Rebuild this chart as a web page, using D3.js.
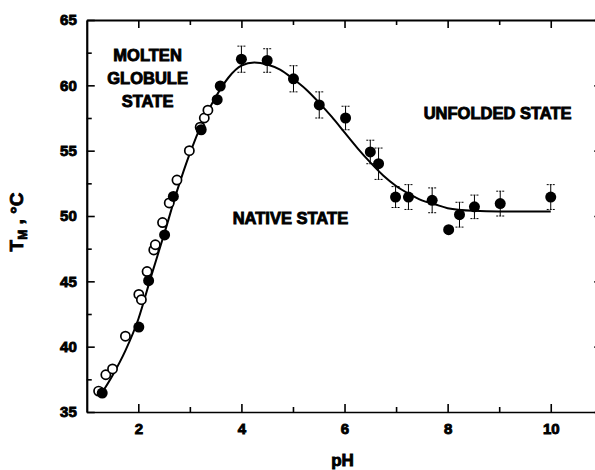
<!DOCTYPE html>
<html>
<head>
<meta charset="utf-8">
<script src="https://cdn.jsdelivr.net/npm/d3@7"></script>
<style>
  body { margin: 0; background: #fff; }
  text { font-family: "Liberation Sans", Arial, sans-serif; font-weight: bold; fill: #000; }
</style>
</head>
<body>
<svg width="595" height="470"></svg>
<script>
'use strict';

// filled circles (with error bars)
const filledPH  = [1.30, 2.01, 2.20, 2.51, 2.68, 3.22, 3.53, 3.59, 4.00, 4.50, 5.01, 5.51, 6.02, 6.50, 6.66, 6.99, 7.24, 7.70, 8.02, 8.23, 8.52, 9.02, 10.0];
const filledT   = [36.45, 41.5, 45.05, 48.55, 51.5, 56.6, 58.9, 59.95, 62.0, 61.9, 60.5, 58.5, 57.5, 54.9, 54.0, 51.45, 51.45, 51.2, 48.95, 50.1, 50.7, 50.95, 51.45];
const filledErr = [0, 0, 0, 0, 0, 0, 0, 0, 1.0, 0.9, 1.0, 1.0, 0.9, 0.9, 1.2, 0.8, 0.95, 0.95, 0, 0.95, 0.9, 0.95, 0.95];

// open circles
const openPH = [1.23, 1.37, 1.50, 1.75, 2.01, 2.06, 2.17, 2.30, 2.33, 2.47, 2.60, 2.75, 2.99, 3.20, 3.28, 3.35];
const openT  = [36.6, 37.85, 38.3, 40.8, 44.0, 43.6, 45.75, 47.4, 47.8, 49.5, 51.0, 52.75, 55.0, 56.8, 57.5, 58.1];

// fitted curve
const fitPH = [1.25, 1.5, 1.75, 2.0, 2.25, 2.5, 2.75, 3.0, 3.25, 3.5, 3.75, 4.0, 4.25, 4.5, 4.75, 5.0, 5.25, 5.5, 5.75, 6.0, 6.25, 6.5, 6.75, 7.0, 7.25, 7.5, 7.75, 8.0, 8.5, 9.0, 10.0];
const fitT  = [36.2, 37.8, 39.7, 42.1, 45.4, 48.6, 51.9, 54.8, 57.2, 59.1, 60.6, 61.5, 61.75, 61.6, 61.2, 60.5, 59.7, 58.7, 57.6, 56.4, 55.2, 54.1, 53.1, 52.3, 51.7, 51.2, 50.9, 50.6, 50.4, 50.35, 50.35];

const xTicks = [2, 4, 6, 8, 10];
const xMinor = [3, 5, 7, 9];
const yTicks = [35, 40, 45, 50, 55, 60, 65];
const yMinor = [37.5, 42.5, 47.5, 52.5, 57.5, 62.5];

const annotations = [
  {lines: ["MOLTEN", "GLOBULE", "STATE"], ph: 2.18, t: 61.9},
  {lines: ["NATIVE STATE"], ph: 4.95, t: 49.4},
  {lines: ["UNFOLDED STATE"], ph: 8.97, t: 57.45}
];

let svg = d3.select("svg");

let x = d3.scaleLinear().domain([1, 11]).range([86.75, 602.3]);
let y = d3.scaleLinear().domain([35, 65]).range([412, 20]);

let g = svg.append("g");

function styleAxis(sel, width) {
  sel.select(".domain").attr("stroke", "#000").attr("stroke-width", width);
  sel.selectAll(".tick line").attr("stroke", "#000").attr("stroke-width", 1.6);
  sel.selectAll(".tick text")
    .attr("font-size", 15)
    .attr("stroke", "#000")
    .attr("stroke-width", 0.9);
}

// bottom
g.append("g")
    .attr("transform", `translate(0,${y(35)})`)
    .call(d3.axisBottom(x).tickValues(xTicks).tickSize(-8).tickSizeOuter(0).tickPadding(11).tickFormat(d3.format("d")))
    .call(s => styleAxis(s, 1.3));
g.append("g")
    .attr("transform", `translate(0,${y(35)})`)
    .call(d3.axisBottom(x).tickValues(xMinor).tickSize(-5).tickSizeOuter(0).tickFormat(""))
    .call(s => styleAxis(s, 0));

// top
g.append("g")
    .attr("transform", `translate(0,${y(65)})`)
    .call(d3.axisTop(x).tickValues(xTicks).tickSize(-8).tickSizeOuter(0).tickFormat(""))
    .call(s => styleAxis(s, 2));
g.append("g")
    .attr("transform", `translate(0,${y(65)})`)
    .call(d3.axisTop(x).tickValues(xMinor).tickSize(-5).tickSizeOuter(0).tickFormat(""))
    .call(s => styleAxis(s, 0));

// left
g.append("g")
    .attr("transform", `translate(${x(1)},0)`)
    .call(d3.axisLeft(y).tickValues(yTicks).tickSize(-8).tickSizeOuter(0).tickPadding(10).tickFormat(d3.format("d")))
    .call(s => styleAxis(s, 2.2));
g.append("g")
    .attr("transform", `translate(${x(1)},0)`)
    .call(d3.axisLeft(y).tickValues(yMinor).tickSize(-5).tickSizeOuter(0).tickFormat(""))
    .call(s => styleAxis(s, 0));

// right
g.append("g")
    .attr("transform", `translate(${x(11)},0)`)
    .call(d3.axisRight(y).tickValues(yTicks).tickSize(-8).tickSizeOuter(0).tickFormat(""))
    .call(s => styleAxis(s, 2));

// fitted curve
let fit = fitPH.map((p, i) => [p, fitT[i]]);
g.append("path")
    .datum(fit)
    .attr("fill", "none")
    .attr("stroke", "#000")
    .attr("stroke-width", 2)
    .attr("d", d3.line().x(d => x(d[0])).y(d => y(d[1])).curve(d3.curveMonotoneX));

// error bars
let filled = filledPH.map((p, i) => ({ph: p, t: filledT[i], e: filledErr[i]}));
let eb = g.append("g").attr("stroke", "#000").attr("stroke-width", 1)
  .selectAll("g")
  .data(filled.filter(d => d.e > 0))
  .join("g");
eb.append("line")
    .attr("x1", d => x(d.ph)).attr("x2", d => x(d.ph))
    .attr("y1", d => y(d.t - d.e)).attr("y2", d => y(d.t + d.e));
eb.append("line")
    .attr("x1", d => x(d.ph) - 4).attr("x2", d => x(d.ph) + 4)
    .attr("y1", d => y(d.t + d.e)).attr("y2", d => y(d.t + d.e))
    .attr("stroke-dasharray", "2,1");
eb.append("line")
    .attr("x1", d => x(d.ph) - 4).attr("x2", d => x(d.ph) + 4)
    .attr("y1", d => y(d.t - d.e)).attr("y2", d => y(d.t - d.e))
    .attr("stroke-dasharray", "2,1");

// open circles
g.append("g")
  .selectAll("circle")
  .data(openPH.map((p, i) => ({ph: p, t: openT[i]})))
  .join("circle")
    .attr("cx", d => x(d.ph))
    .attr("cy", d => y(d.t))
    .attr("r", 4.6)
    .attr("fill", "#fff")
    .attr("stroke", "#000")
    .attr("stroke-width", 1.7);

// filled circles
g.append("g")
  .selectAll("circle")
  .data(filled)
  .join("circle")
    .attr("cx", d => x(d.ph))
    .attr("cy", d => y(d.t))
    .attr("r", 5.5)
    .attr("fill", "#000");

// region labels
let ann = g.append("g")
  .selectAll("text")
  .data(annotations)
  .join("text")
    .attr("text-anchor", "middle")
    .attr("font-size", 16.5)
    .attr("stroke", "#000")
    .attr("stroke-width", 0.9)
    .attr("x", d => x(d.ph))
    .attr("y", d => y(d.t));
ann.selectAll("tspan")
  .data(d => d.lines.map(l => ({l, ph: d.ph})))
  .join("tspan")
    .attr("x", d => x(d.ph))
    .attr("dy", (d, i) => i ? 23 : 0)
    .text(d => d.l);

// axis titles
svg.append("text")
    .attr("x", (x(1) + x(11)) / 2 - 2)
    .attr("y", 466)
    .attr("text-anchor", "middle")
    .attr("font-size", 17)
    .attr("stroke", "#000")
    .attr("stroke-width", 0.9)
    .text("pH");

let yt = svg.append("text")
    .attr("transform", `translate(23,${(y(35) + y(65)) / 2 + 6}) rotate(-90)`)
    .attr("text-anchor", "middle")
    .attr("font-size", 19)
    .attr("stroke", "#000")
    .attr("stroke-width", 0.8);
yt.append("tspan").text("T");
yt.append("tspan").attr("font-size", 12).attr("dy", 4).text("M");
yt.append("tspan").attr("dy", -4).text(" ,  °C");
</script>
</body>
</html>
